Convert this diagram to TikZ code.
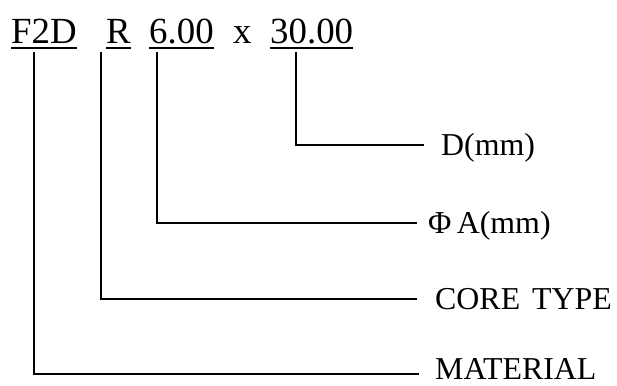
\documentclass[tikz,border=0pt]{standalone}
\usepackage{fontspec}
\setmainfont{Liberation Serif}
\usetikzlibrary{positioning}
\tikzset{
  code/.style={inner sep=0pt,anchor=base west,font=\fontsize{37}{40}\selectfont},
  lbl/.style={inner sep=0pt,text height=21bp,text depth=0pt,font=\fontsize{32}{36}\selectfont},
  ln/.style={line width=2.4bp,black},
  ul/.style={line width=1.8bp,black}
}
\begin{document}
\begin{tikzpicture}[x=1bp,y=-1bp]
\useasboundingbox (0,0) rectangle (617,385);
% part code
\node[code] (mat) at (11,43) {F2D};
\node[code] (core) at (106,43) {R};
\node[code] (dia) at (149,43) {6.00};
\node[code] (times) at (233,43) {x};
\node[code] (len) at (270,43) {30.00};
\foreach \n in {mat,core,dia,len}
  \draw[ul] ([yshift=-5bp]\n.base west) -- ([yshift=-5bp]\n.base east);
% tap points and line ends
\coordinate (tLen) at (296,52);
\coordinate (eLen) at (424,145);
\coordinate (tDia) at (157,52);
\coordinate (eDia) at (417,223);
\coordinate (tCore) at (101,52);
\coordinate (eCore) at (417,299);
\coordinate (tMat) at (34,52);
\coordinate (eMat) at (419,374);
% labels
\node[lbl,right=17bp of eLen] (lLen) {D(mm)};
\node[lbl,right=11bp of eDia] (lDia) {Φ\,A(mm)};
\node[lbl,right=18bp of eCore] (lCore) {CORE\hspace{12bp}TYPE};
\node[lbl,right=16bp of eMat,yshift=5bp] (lMat) {MATERIAL};
\draw[ln] (tLen) |- (eLen);
\draw[ln] (tDia) |- (eDia);
\draw[ln] (tCore) |- (eCore);
\draw[ln] (tMat) |- (eMat);
\end{tikzpicture}
\end{document}
